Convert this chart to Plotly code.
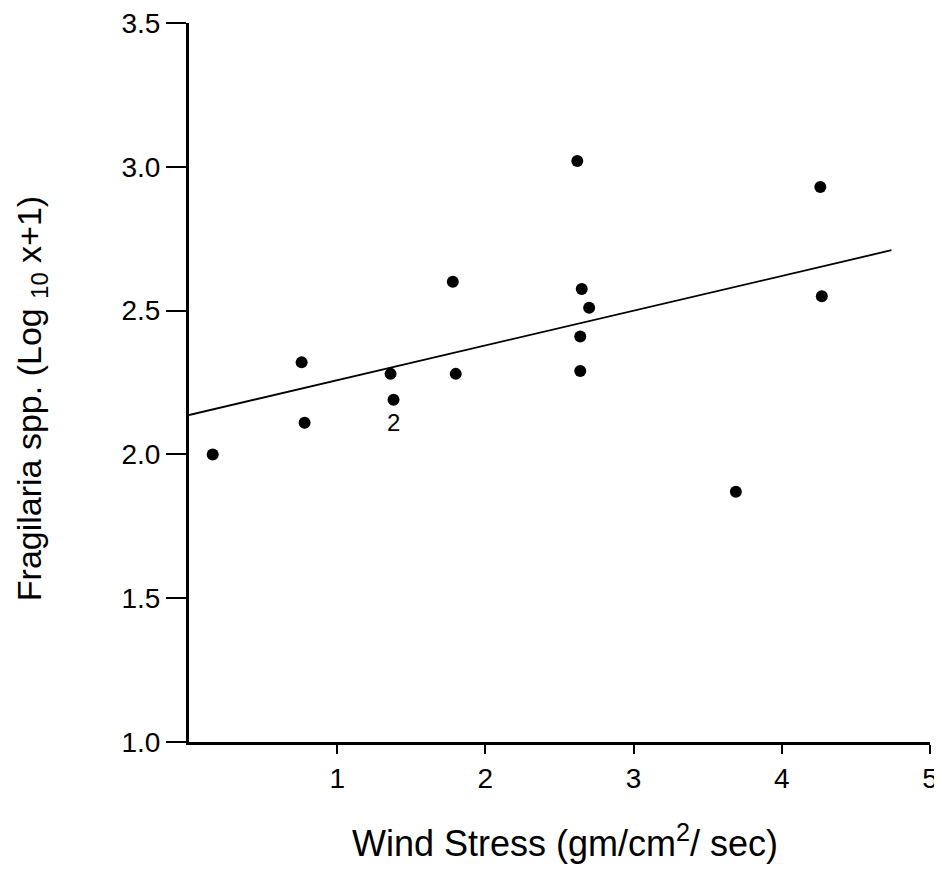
import plotly.graph_objects as go

# Data
wind_stress = [0.16, 0.76, 0.78, 1.36, 1.38, 1.78, 1.80, 2.62, 2.65, 2.70, 2.64, 2.64, 4.26, 4.27, 3.69]
fragilaria = [2.00, 2.32, 2.11, 2.28, 2.19, 2.60, 2.28, 3.02, 2.575, 2.51, 2.41, 2.29, 2.93, 2.55, 1.87]

fit_x = [0.0, 4.74]
fit_y = [2.137, 2.71]

x_ticks = [1, 2, 3, 4, 5]
x_tick_labels = ["1", "2", "3", "4", "5"]
y_ticks = [1.0, 1.5, 2.0, 2.5, 3.0, 3.5]
y_tick_labels = ["1.0", "1.5", "2.0", "2.5", "3.0", "3.5"]

FONT = "Liberation Sans, Arial, sans-serif"

fig = go.Figure()
fig.add_trace(go.Scatter(x=fit_x, y=fit_y, mode="lines",
                         line=dict(color="black", width=1.8), hoverinfo="skip"))
fig.add_trace(go.Scatter(x=wind_stress, y=fragilaria, mode="markers",
                         marker=dict(color="black", size=12), cliponaxis=False))

fig.add_annotation(x=1.38, y=2.11, xref="x", yref="y", text="2", showarrow=False,
                   font=dict(family=FONT, size=24, color="black"))

fig.add_annotation(x=0.507, y=-0.137, xref="paper", yref="paper",
                   text="Wind Stress (gm/cm<sup>2</sup>/ sec)", showarrow=False,
                   font=dict(family=FONT, size=36, color="black"),
                   xanchor="center", yanchor="middle")
fig.add_annotation(x=-0.213, y=0.477, xref="paper", yref="paper",
                   text="Fragilaria spp. (Log <sub>10</sub> x+1)", showarrow=False,
                   textangle=-90,
                   font=dict(family=FONT, size=34, color="black"),
                   xanchor="center", yanchor="middle")

fig.update_layout(
    width=942, height=871,
    margin=dict(l=181, r=20, t=15, b=137),
    paper_bgcolor="white", plot_bgcolor="white",
    showlegend=False,
    font=dict(family=FONT, size=28, color="black"),
    xaxis=dict(range=[0, 5], tickmode="array", tickvals=x_ticks, ticktext=x_tick_labels,
               automargin=False, ticklabeloverflow="allow",
               showgrid=False, zeroline=False, showline=True, linecolor="black", linewidth=3,
               ticks="outside", ticklen=9, tickwidth=2, tickcolor="black",
               tickfont=dict(family=FONT, size=28, color="black")),
    yaxis=dict(range=[1.0, 3.5], tickmode="array", tickvals=y_ticks, ticktext=y_tick_labels,
               automargin=False, ticklabeloverflow="allow",
               showgrid=False, zeroline=False, showline=True, linecolor="black", linewidth=3,
               ticks="outside", ticklen=20, tickwidth=2, tickcolor="black",
               tickfont=dict(family=FONT, size=28, color="black")),
)

fig.write_html("out.html")
